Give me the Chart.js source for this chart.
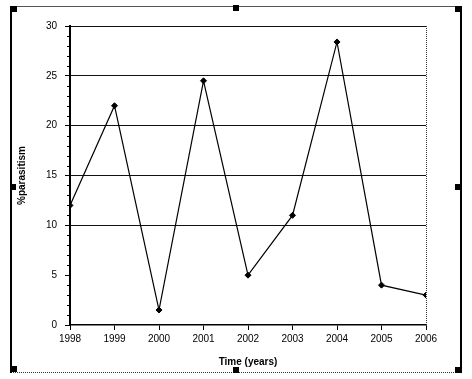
<!DOCTYPE html>
<html>
<head>
<meta charset="utf-8">
<script src="https://cdn.jsdelivr.net/npm/chart.js@4.4.7/dist/chart.umd.min.js"></script>
<style>
  html, body { margin: 0; padding: 0; background: #fff; }
  #wrap { width: 472px; height: 379px; }
</style>
</head>
<body>
<div id="wrap"><canvas id="c" width="472" height="379"></canvas></div>
<script>
const years = [1998, 1999, 2000, 2001, 2002, 2003, 2004, 2005, 2006];
const parasitism = [12, 22, 1.5, 24.5, 5, 11, 28.4, 4, 3];
const yTicks = [0, 5, 10, 15, 20, 25, 30];

const frame = {
  id: 'frame',
  afterDraw(chart) {
    const ctx = chart.ctx;
    const area = chart.chartArea;
    const y = chart.scales.y;
    ctx.save();
    // minor ticks on the y axis
    ctx.strokeStyle = '#000';
    ctx.lineWidth = 1;
    for (let v = 1; v < 30; v++) {
      if (v % 5 === 0) continue;
      const py = Math.round(y.getPixelForValue(v)) + 0.5;
      ctx.beginPath();
      ctx.moveTo(area.left - 3, py);
      ctx.lineTo(area.left, py);
      ctx.stroke();
    }
    // dotted right edge of plot
    ctx.setLineDash([1, 1]);
    ctx.strokeStyle = '#333';
    ctx.beginPath();
    ctx.moveTo(Math.round(area.right) + 0.5, area.top);
    ctx.lineTo(Math.round(area.right) + 0.5, area.bottom);
    ctx.stroke();
    // dotted bottom of outer frame
    ctx.beginPath();
    ctx.moveTo(11, 372.5);
    ctx.lineTo(461, 372.5);
    ctx.stroke();
    ctx.setLineDash([]);
    // outer frame
    ctx.strokeStyle = '#555';
    ctx.beginPath();
    ctx.moveTo(11, 6.5);
    ctx.lineTo(461, 6.5);
    ctx.stroke();
    ctx.strokeStyle = '#000';
    ctx.lineWidth = 2;
    ctx.beginPath();
    ctx.moveTo(11, 6);
    ctx.lineTo(11, 373);
    ctx.moveTo(461, 6);
    ctx.lineTo(461, 373);
    ctx.stroke();
    // selection handles
    ctx.fillStyle = '#000';
    const handles = [[11, 6], [233, 5], [455, 6], [10, 184], [455, 184], [11, 366], [233, 367], [455, 367]];
    handles.forEach(([hx, hy]) => ctx.fillRect(hx, hy, 6, 6));
    ctx.restore();
  }
};

new Chart(document.getElementById('c'), {
  type: 'line',
  data: {
    datasets: [{
      data: years.map((yr, i) => ({ x: yr, y: parasitism[i] })),
      borderColor: '#000',
      borderWidth: 1.2,
      backgroundColor: '#000',
      pointStyle: 'rectRot',
      pointRadius: 3,
      pointBorderWidth: 1,
      tension: 0,
      fill: false
    }]
  },
  options: {
    responsive: false,
    animation: false,
    layout: { padding: { left: 12, right: 46, top: 26, bottom: 9 } },
    plugins: { legend: { display: false }, tooltip: { enabled: false } },
    scales: {
      x: {
        type: 'linear',
        min: 1998,
        max: 2006,
        afterFit(scale) { scale.height = 45; },
        afterBuildTicks(scale) { scale.ticks = years.map(v => ({ value: v })); },
        ticks: {
          color: '#000',
          font: { family: 'Liberation Sans', size: 10 },
          padding: 3,
          maxRotation: 0,
          callback: v => String(v)
        },
        grid: { drawOnChartArea: false, drawTicks: true, tickLength: 5, tickColor: '#000' },
        border: { color: '#000', width: 1.5 },
        title: {
          display: true,
          text: 'Time (years)',
          color: '#000',
          font: { family: 'Liberation Sans', size: 10, weight: 'bold' },
          padding: { top: 0, bottom: 2 }
        }
      },
      y: {
        min: 0,
        max: 30,
        afterFit(scale) { scale.width = 58; },
        afterBuildTicks(scale) { scale.ticks = yTicks.map(v => ({ value: v })); },
        ticks: {
          color: '#000',
          font: { family: 'Liberation Sans', size: 10 },
          padding: 8
        },
        grid: {
          color: ctx => (ctx.tick && ctx.tick.value >= 10 ? '#111' : 'rgba(0,0,0,0)'),
          lineWidth: 1,
          drawTicks: true,
          tickLength: 5,
          tickColor: '#000'
        },
        border: { color: '#000', width: 2 },
        title: {
          display: true,
          text: '%parasitism',
          color: '#000',
          font: { family: 'Liberation Sans', size: 10, weight: 'bold' },
          padding: { top: 4, bottom: 0 }
        }
      }
    }
  },
  plugins: [frame]
});
</script>
</body>
</html>
